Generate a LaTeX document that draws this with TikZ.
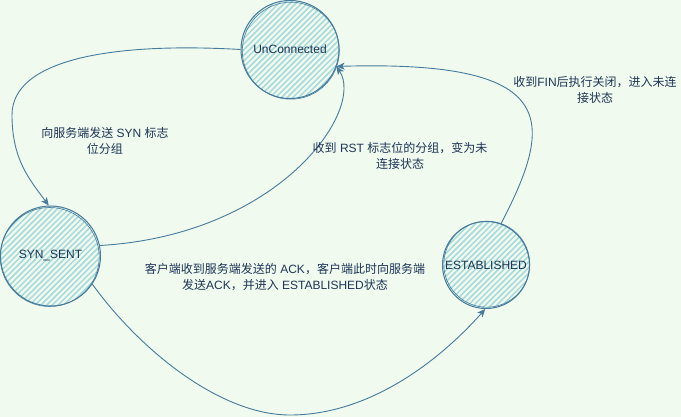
\documentclass[tikz,border=0pt]{standalone}
\usepackage{fontspec}
\setmainfont{Liberation Sans}
\newfontfamily\cjkfont{Noto Sans CJK SC}
\newcommand\zh[1]{{\cjkfont #1}}
\usetikzlibrary{arrows.meta}
\definecolor{bgc}{HTML}{F1FAEE}
\definecolor{strokec}{HTML}{457B9D}
\definecolor{hatchc}{HTML}{A8DADC}
\definecolor{textc}{HTML}{1D3557}
\tikzset{
  state/.style={circle, draw=strokec, line width=1pt, inner sep=0pt,
    text=textc, font=\fontsize{12pt}{14pt}\selectfont},
  hatchline/.style={draw=hatchc, line width=1.5pt},
  sketch/.style={draw=strokec, line width=0.6pt},
  conn/.style={draw=strokec, line width=0.9pt, -{Stealth[length=8pt,width=7pt,inset=2pt]}},
  lbl/.style={text=textc, align=center, inner sep=0pt, font=\fontsize{12pt}{15.5pt}\selectfont}
}
\newcommand\hatchdisk[2]{%
  \begin{scope}
    \clip (#1) circle (#2);
    \foreach \i in {-160,-154.3,...,160}
      \draw[hatchline] ([shift={(\i-110,110)}]#1) -- ++(220,-220);
  \end{scope}}
\begin{document}
\begin{tikzpicture}[x=1pt,y=-1pt]
\useasboundingbox[fill=bgc] (0,0) rectangle (681,417);
\coordinate (cu) at (290,49.5);
\coordinate (cs) at (50.5,256);
\coordinate (ce) at (486,265);
\hatchdisk{cu}{49}
\hatchdisk{cs}{50}
\hatchdisk{ce}{43.5}
% states
\node[state, minimum size=98pt] (uc) at (cu) {UnConnected};
\node[state, minimum size=100pt] (syn) at (cs) {SYN\_SENT};
\node[state, minimum size=87pt] (est) at (ce) {ESTABLISHED};
% sketchy second strokes
\draw[sketch] ([shift={(0.8,1.2)}]uc.center) circle (48.5);
\draw[sketch] ([shift={(-0.8,1.0)}]syn.center) circle (49.5);
\draw[sketch] ([shift={(0.8,-0.8)}]est.center) circle (43);
% waypoints
\coordinate (w1) at (12,115);
\coordinate (w4) at (290,415);
% connectors
\draw[conn] (uc.180) .. controls (110,42) and (12,60) .. (w1)
  .. controls (12,160) and (30,180) .. (syn.92);
\draw[conn] (syn.12) .. controls (280,235) and (365,110) .. (uc.-20);
\draw[conn] (est.70) .. controls (555,120) and (560,60) .. (uc.-20);
\draw[conn] (syn.-34) .. controls (140,350) and (220,415) .. (w4)
  .. controls (370,415) and (440,360) .. (est.-91);
% labels
\node[lbl] (l1) at (105,141) {\zh{向服务端发送} SYN \zh{标志}\\\zh{位分组}};
\node[lbl] (l2) at (400,156) {\zh{收到} RST \zh{标志位的分组，变为未}\\\zh{连接状态}};
\node[lbl] (l3) at (285,277) {\zh{客户端收到服务端发送的} ACK\zh{，客户端此时向服务端}\\\zh{发送}ACK\zh{，并进入} ESTABLISHED\zh{状态}};
\node[lbl] (l4) at (595,90) {\zh{收到}FIN\zh{后执行关闭，进入未连}\\\zh{接状态}};
\end{tikzpicture}
\end{document}
